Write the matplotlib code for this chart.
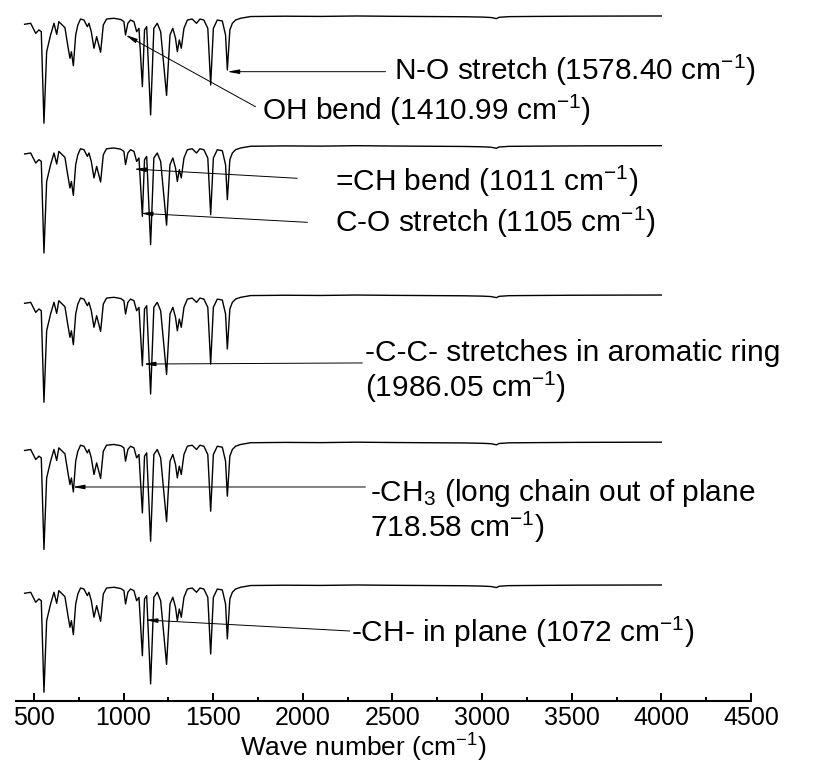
import matplotlib
matplotlib.use("Agg")
import matplotlib.pyplot as plt
import numpy as np

plt.rcParams['font.family'] = ['Liberation Sans', 'DejaVu Sans']
plt.rcParams['mathtext.fontset'] = 'custom'
plt.rcParams['mathtext.rm'] = 'Liberation Sans'
plt.rcParams['mathtext.it'] = 'Liberation Sans:italic'

# FTIR spectrum (wave number, transmittance %)
wavenumber = [448, 482, 510, 528, 541, 556, 571, 593, 612, 627, 639, 658, 673, 690, 701,
              709, 720, 733, 745, 760, 779, 798, 807, 820, 835, 850, 872, 887, 905, 946,
              984, 1002, 1011, 1024, 1039, 1058, 1073, 1086, 1105, 1117, 1129, 1151, 1169,
              1188, 1207, 1240, 1259, 1275, 1290, 1300, 1311, 1322, 1337, 1356, 1383, 1407,
              1426, 1448, 1470, 1486, 1501, 1523, 1551, 1569, 1579, 1593, 1607, 1625, 1653,
              1709, 1900, 2100, 2300, 2500, 2700, 2900, 3000, 3050, 3080, 3095, 3150, 3300,
              3500, 3700, 4000]
transmittance = [92.4, 93.3, 84.1, 87.2, 85.6, 1.6, 67.2, 82.6, 93.3, 83.2, 94.8, 91.7, 89.3,
                 71.8, 61.2, 67.2, 54.4, 82.6, 91.7, 97.2, 96.3, 90.2, 93.3, 85.6, 70.4, 81.0,
                 66.7, 91.7, 97.2, 97.9, 96.8, 94.8, 82.6, 93.3, 96.3, 94.8, 85.6, 88.7, 35.1,
                 87.2, 90.2, 9.2, 88.7, 93.3, 85.6, 27.1, 82.6, 88.7, 79.5, 67.2, 78.0, 70.4,
                 88.7, 96.3, 97.2, 93.3, 97.2, 96.3, 88.7, 36.7, 88.7, 96.3, 95.4, 82.6, 50.5,
                 87.2, 93.3, 96.3, 97.9, 99.5, 99.8, 99.6, 100.0, 99.7, 99.5, 99.3, 99.0, 98.6,
                 97.6, 98.8, 99.4, 99.6, 99.8, 99.9, 100.0]

# vertical offsets of the five stacked traces (top to bottom)
offsets = [522, 403, 266, 131, 0]

# annotations: (label lines, arrow tip, arrow tail, text anchor)
labels = [
    ['N-O stretch (1578.40 cm$^{-1}$)'],
    ['OH bend (1410.99 cm$^{-1}$)'],
    ['=CH bend (1011 cm$^{-1}$)'],
    ['C-O stretch (1105 cm$^{-1}$)'],
    ['-C-C- stretches in aromatic ring', '(1986.05 cm$^{-1}$)'],
    ['-CH$_3$ (long chain out of plane', '718.58 cm$^{-1}$)'],
    ['-CH- in plane (1072 cm$^{-1}$)'],
]
arrow_tips = [(1579, 570.9), (1011, 604.6), (1058, 481.6), (1095, 441.0),
              (1112, 302.7), (716, 189.9), (1123, 67.9)]
arrow_tails = [(2461, 570.9), (1736, 538.8), (1969, 473.1), (2026, 432.7),
               (2332, 303.7), (2349, 189.9), (2261, 57.8)]
text_pos = [(2506, 572.5), (1775, 535.8), (2182, 470.6), (2182, 433.0),
            (2349, 312.5), (2377, 184.0), (2267, 56.9)]
line_gap = 31.5

fig = plt.figure(figsize=(8.16, 7.65), dpi=100)
ax = fig.add_axes([0.0196, 0.0842, 0.9007, 0.9093])

for off in offsets:
    ax.plot(wavenumber, np.array(transmittance) + off, color='black', lw=1.0)

for lines, tip, tail, pos in zip(labels, arrow_tips, arrow_tails, text_pos):
    ax.annotate('', xy=tip, xytext=tail,
                arrowprops=dict(arrowstyle='-|>,head_length=0.7,head_width=0.13',
                                color='black', lw=0.7, shrinkA=0, shrinkB=0))
    for i, s in enumerate(lines):
        ax.text(pos[0], pos[1] - i * line_gap, s, fontsize=21.5,
                ha='left', va='center')

ax.set_xlim(400, 4500)
ax.set_ylim(-6.06, 632.1)
ax.set_xticks(np.arange(500, 4501, 500))
ax.set_xticks(np.arange(750, 4500, 500), minor=True)
ax.tick_params(axis='x', which='major', direction='in', length=6, width=1.4,
               labelsize=18, pad=4)
ax.tick_params(axis='x', which='minor', direction='in', length=3, width=1.4)
ax.set_yticks([])
for side in ['top', 'left', 'right']:
    ax.spines[side].set_visible(False)
ax.spines['bottom'].set_linewidth(1.5)
ax.set_xlabel('Wave number (cm$^{-1}$)', fontsize=19)
ax.xaxis.set_label_coords(0.472, -0.045)

fig.savefig('out.png', dpi=100)
